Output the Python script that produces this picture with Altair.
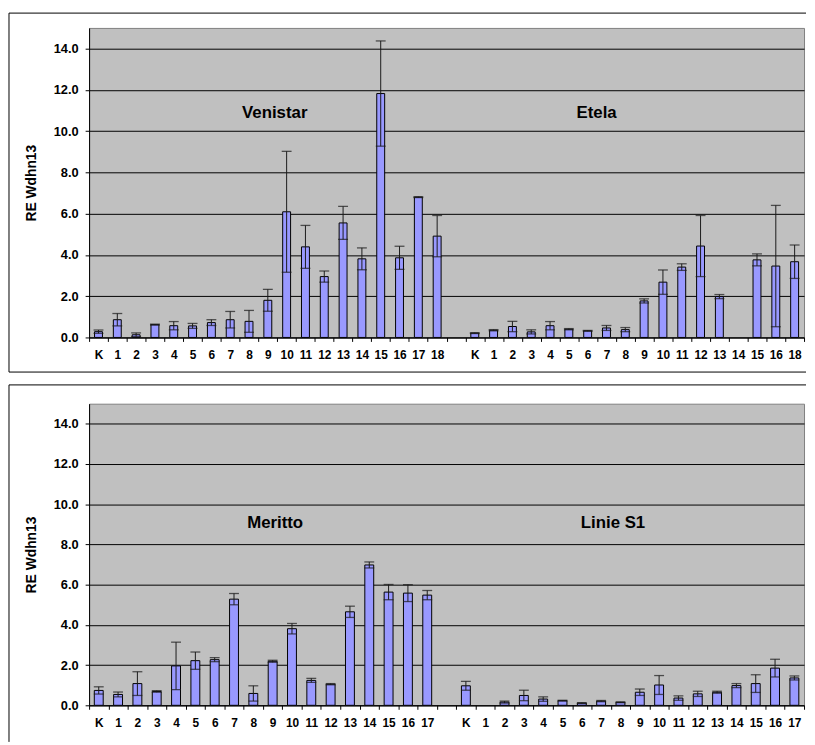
import altair as alt
import pandas as pd

# ---------------- data ----------------
venistar_cats = ["K", "1", "2", "3", "4", "5", "6", "7", "8", "9", "10",
                 "11", "12", "13", "14", "15", "16", "17", "18"]
venistar_val = [0.28, 0.86, 0.13, 0.62, 0.57, 0.56, 0.72, 0.86, 0.78, 1.80, 6.09,
                4.39, 2.95, 5.55, 3.81, 11.82, 3.86, 6.80, 4.91]
venistar_err = [0.08, 0.30, 0.09, 0.02, 0.20, 0.12, 0.14, 0.40, 0.53, 0.53, 2.93,
                1.04, 0.27, 0.80, 0.53, 2.55, 0.56, 0.02, 1.00]

etela_cats = ["K", "1", "2", "3", "4", "5", "6", "7", "8", "9", "10",
              "11", "12", "13", "14", "15", "16", "18"]
etela_val = [0.21, 0.35, 0.53, 0.27, 0.57, 0.40, 0.32, 0.46, 0.38, 1.77, 2.68,
             3.41, 4.43, 1.98, None, 3.76, 3.46, 3.67]
etela_err = [0.02, 0.03, 0.25, 0.10, 0.20, 0.03, 0.02, 0.12, 0.10, 0.10, 0.59,
             0.16, 1.48, 0.10, None, 0.29, 2.94, 0.81]

meritto_cats = ["K", "1", "2", "3", "4", "5", "6", "7", "8", "9", "10",
                "11", "12", "13", "14", "15", "16", "17"]
meritto_val = [0.74, 0.54, 1.08, 0.69, 1.96, 2.22, 2.27, 5.28, 0.59, 2.19, 3.81,
               1.24, 1.05, 4.65, 6.98, 5.63, 5.58, 5.48]
meritto_err = [0.18, 0.12, 0.59, 0.04, 1.18, 0.43, 0.10, 0.28, 0.38, 0.05, 0.26,
               0.10, 0.03, 0.28, 0.15, 0.38, 0.42, 0.23]

linie_cats = ["K", "1", "2", "3", "4", "5", "6", "7", "8", "9", "10",
              "11", "12", "13", "14", "15", "16", "17"]
linie_val = [0.97, None, 0.16, 0.49, 0.31, 0.23, 0.11, 0.21, 0.15, 0.65, 1.01,
             0.36, 0.57, 0.65, 0.98, 1.08, 1.85, 1.36]
linie_err = [0.22, None, 0.05, 0.26, 0.11, 0.02, 0.02, 0.03, 0.02, 0.16, 0.47,
             0.11, 0.13, 0.05, 0.10, 0.44, 0.44, 0.10]

y_ticks = [0, 2, 4, 6, 8, 10, 12, 14]
y_title = "RE Wdhn13"

FONT = "Liberation Sans"
BAR_FILL = "#9999FF"
ZW = "\u200b"  # zero-width space keeps repeated labels unique


def panel(groups, labels, width, height, bar_size, frame_top, frame_bottom,
          close_bottom=True):
    rows, domain = [], []
    for gi, (cats, vals, errs) in enumerate(groups):
        suffix = ZW * gi
        if gi > 0:
            domain.append(" ")
        for c, v, e in zip(cats, vals, errs):
            key = c + suffix
            domain.append(key)
            if v is not None:
                rows.append({"slot": key, "value": v,
                             "lo": round(v - e, 3), "hi": round(v + e, 3)})
    df = pd.DataFrame(rows)

    xscale = alt.Scale(domain=domain, paddingInner=0, paddingOuter=0)
    yscale = alt.Scale(domain=[0, 15], nice=False)
    x = alt.X("slot:N", scale=xscale, title=None,
              axis=alt.Axis(labelAngle=0, tickSize=4, tickColor="black",
                            tickBand="extent",
                            domainColor="black", labelFontSize=12,
                            labelFontWeight="bold", labelColor="black",
                            labelPadding=8, labelFont=FONT, grid=False))

    bars = alt.Chart(df).mark_bar(size=bar_size, fill=BAR_FILL, stroke="black",
                                  strokeWidth=1).encode(
        x=x,
        y=alt.Y("value:Q", scale=yscale, title=y_title,
                axis=alt.Axis(values=y_ticks, format=".1f", grid=True,
                              gridColor="black", gridWidth=1, gridOpacity=1,
                              tickSize=4,
                              tickColor="black", domainColor="black",
                              labelFontSize=13, labelFontWeight="bold",
                              labelColor="black", labelPadding=7, labelFont=FONT,
                              titleFontSize=14,
                              titleFontWeight="bold", titleColor="black",
                              titleFont=FONT, titlePadding=15)),
    )
    rule = alt.Chart(df).mark_rule(color="#1a1a1a", strokeWidth=1).encode(
        x=x, y=alt.Y("lo:Q", scale=yscale, title=y_title), y2=alt.Y2("hi"))
    cap_hi = alt.Chart(df).mark_tick(color="#1a1a1a", size=10, thickness=1.3).encode(
        x=x, y=alt.Y("hi:Q", scale=yscale, title=y_title))
    cap_lo = alt.Chart(df).mark_tick(color="#1a1a1a", size=10, thickness=1.3).encode(
        x=x, y=alt.Y("lo:Q", scale=yscale, title=y_title))

    layers = [bars, rule, cap_hi, cap_lo]
    for name, slot, yv, dx in labels:
        ldf = pd.DataFrame({"slot": [slot], "ty": [yv], "name": [name]})
        layers.append(
            alt.Chart(ldf).mark_text(fontSize=17, fontWeight="bold", font=FONT,
                                     color="black", dx=dx, baseline="middle").encode(
                x=x, y=alt.Y("ty:Q", scale=yscale, title=y_title), text="name:N"))

    # decorative chart-area frame (Excel style), open on the right edge
    one = pd.DataFrame({"a": [0]})
    fr = alt.Chart(one)
    layers.append(fr.mark_rule(color="black", strokeWidth=1).encode(
        x=alt.value(-81), x2=alt.value(width + 2), y=alt.value(frame_top)))
    if close_bottom:
        layers.append(fr.mark_rule(color="black", strokeWidth=1).encode(
            x=alt.value(-81), x2=alt.value(width + 2), y=alt.value(frame_bottom)))
    layers.append(fr.mark_rule(color="black", strokeWidth=1).encode(
        x=alt.value(-81), y=alt.value(frame_top), y2=alt.value(frame_bottom)))

    return alt.layer(*layers).properties(width=width, height=height)


top = panel(
    [(venistar_cats, venistar_val, venistar_err),
     (etela_cats, etela_val, etela_err)],
    [("Venistar", "9", 10.88, 7), ("Etela", "6" + ZW, 10.88, 9)],
    width=723, height=313, bar_size=8, frame_top=-15, frame_bottom=348)

bottom = panel(
    [(meritto_cats, meritto_val, meritto_err),
     (linie_cats, linie_val, linie_err)],
    [("Meritto", "9", 9.05, 2.5), ("Linie S1", "7" + ZW, 9.05, 12)],
    width=723, height=305, bar_size=9, frame_top=-19, frame_bottom=342,
    close_bottom=False)

chart = alt.vconcat(top, bottom, spacing=11, padding=0).configure_view(
    fill="#C0C0C0", stroke="#808080", strokeWidth=1
)

chart.save("out.html", embed_options={"renderer": "svg", "actions": False})
